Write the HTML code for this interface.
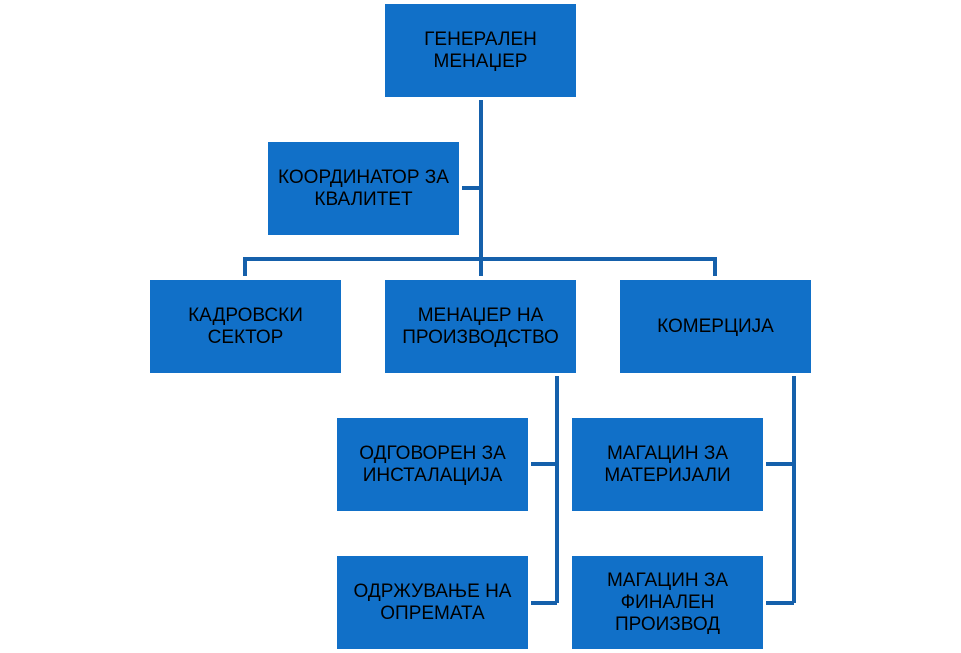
<!DOCTYPE html>
<html><head><meta charset="utf-8"><style>
body{margin:0;width:961px;height:653px;background:#fff;position:relative;overflow:hidden;font-family:"Liberation Sans",Arial,sans-serif}
.b{position:absolute;width:191px;height:93px;background:#1170c8;display:flex;align-items:center;justify-content:center;text-align:center;font-size:19px;line-height:22px;color:#000;white-space:nowrap}
svg{position:absolute;left:0;top:0}
</style></head><body>
<svg width="961" height="653"><g stroke="#1560ab" stroke-width="4" fill="none">
<path d="M481 100V276M462 188H481M245 276V259H715V276"/>
<path d="M531 464H557M531 603H557M557 376V603"/>
<path d="M766 464H794M766 603H794M794 376V603"/>
</g></svg>
<div class="b" style="left:385px;top:4px">ГЕНЕРАЛЕН<br>МЕНАЏЕР</div>
<div class="b" style="left:268px;top:142px">КООРДИНАТОР ЗА<br>КВАЛИТЕТ</div>
<div class="b" style="left:150px;top:280px">КАДРОВСКИ<br>СЕКТОР</div>
<div class="b" style="left:385px;top:280px">МЕНАЏЕР НА<br>ПРОИЗВОДСТВО</div>
<div class="b" style="left:620px;top:280px">КОМЕРЦИЈА</div>
<div class="b" style="left:337px;top:418px">ОДГОВОРЕН ЗА<br>ИНСТАЛАЦИЈА</div>
<div class="b" style="left:337px;top:556px">ОДРЖУВАЊЕ НА<br>ОПРЕМАТА</div>
<div class="b" style="left:572px;top:418px">МАГАЦИН ЗА<br>МАТЕРИЈАЛИ</div>
<div class="b" style="left:572px;top:556px">МАГАЦИН ЗА<br>ФИНАЛЕН<br>ПРОИЗВОД</div>
</body></html>
